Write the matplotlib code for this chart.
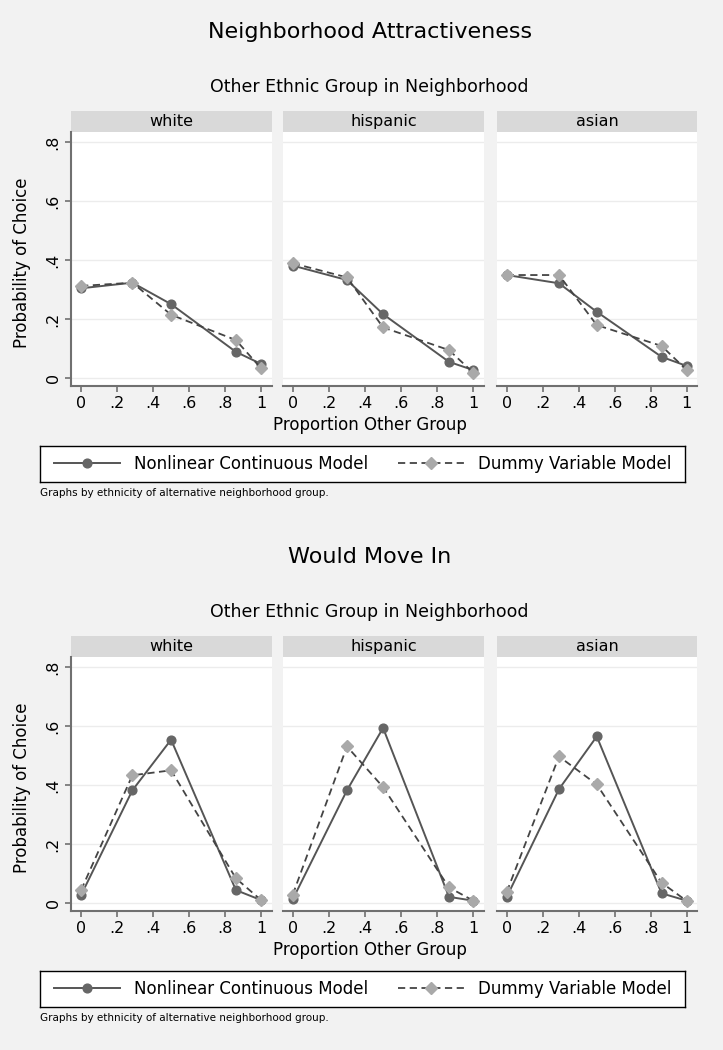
import matplotlib
matplotlib.use("Agg")
import matplotlib.pyplot as plt
from matplotlib.lines import Line2D

plt.rcParams["font.family"] = ["DejaVu Sans"]

groups = ["white", "hispanic", "asian"]
xtick_vals = [0, 0.2, 0.4, 0.6, 0.8, 1.0]
xtick_labels = ["0", ".2", ".4", ".6", ".8", "1"]
ytick_vals = [0, 0.2, 0.4, 0.6, 0.8]
ytick_labels = ["0", ".2", ".4", ".6", ".8"]

# proportion other group (category means) for each panel
x_white = [0, 0.285, 0.50, 0.86, 1.0]
x_hisp = [0, 0.30, 0.50, 0.865, 1.0]
x_asian = [0, 0.29, 0.50, 0.86, 1.0]

# Neighborhood attractiveness
attr_cont_white = [0.304, 0.323, 0.250, 0.088, 0.047]
attr_dummy_white = [0.312, 0.323, 0.214, 0.128, 0.032]
attr_cont_hisp = [0.381, 0.332, 0.216, 0.054, 0.026]
attr_dummy_hisp = [0.389, 0.341, 0.171, 0.094, 0.017]
attr_cont_asian = [0.349, 0.321, 0.224, 0.071, 0.040]
attr_dummy_asian = [0.349, 0.349, 0.179, 0.108, 0.026]

# Would move in
move_cont_white = [0.026, 0.382, 0.554, 0.043, 0.009]
move_dummy_white = [0.043, 0.433, 0.450, 0.083, 0.009]
move_cont_hisp = [0.012, 0.382, 0.594, 0.020, 0.007]
move_dummy_hisp = [0.028, 0.531, 0.393, 0.052, 0.007]
move_cont_asian = [0.020, 0.386, 0.565, 0.032, 0.007]
move_dummy_asian = [0.037, 0.497, 0.402, 0.068, 0.006]

W, H = 723, 1050
fig = plt.figure(figsize=(7.23, 10.5), dpi=100, facecolor="#f2f2f2")


def box(x0, y0, x1, y1):
    # pixel box -> figure fraction
    return [x0 / W, 1 - y1 / H, (x1 - x0) / W, (y1 - y0) / H]


panel_x = [(71, 271.7), (282.7, 484), (496.7, 697.4)]
cont_style = dict(color="#555555", lw=1.4, marker="o", ms=6.3, mfc="#666666", mec="#666666")
dummy_style = dict(color="#444444", lw=1.3, ls="--", dashes=(4, 2.5), marker="D", ms=6.3,
                   mfc="#a9a9a9", mec="#a9a9a9")


def draw_section(dy, title, xs, conts, dummies):
    fig.text(370 / W, 1 - (32 + dy) / H, title, ha="center", va="center", fontsize=16)
    fig.text(369 / W, 1 - (87 + dy) / H, "Other Ethnic Group in Neighborhood",
             ha="center", va="center", fontsize=12.5)

    for i in range(3):
        x0, x1 = panel_x[i]
        strip = fig.add_axes(box(x0, 111 + dy, x1, 131.7 + dy))
        strip.set_facecolor("#d9d9d9")
        strip.set_xticks([])
        strip.set_yticks([])
        for s in strip.spines.values():
            s.set_visible(False)
        strip.text(0.5, 0.5, groups[i], ha="center", va="center", fontsize=11.5,
                   transform=strip.transAxes)

        ax = fig.add_axes(box(x0, 131.7 + dy, x1, 385.7 + dy))
        ax.set_facecolor("white")
        ax.plot(xs[i], conts[i], zorder=3, **cont_style)
        ax.plot(xs[i], dummies[i], zorder=4, **dummy_style)
        ax.set_xlim(-0.056, 1.059)
        ax.set_ylim(-0.027, 0.836)
        ax.set_xticks(xtick_vals)
        ax.set_xticklabels(xtick_labels, fontsize=11.5)
        ax.set_yticks(ytick_vals)
        ax.set_yticklabels(ytick_labels, fontsize=11.5, rotation=90, va="center")
        ax.yaxis.grid(True, color="#ececec", lw=1)
        ax.set_axisbelow(True)
        ax.spines["top"].set_visible(False)
        ax.spines["right"].set_visible(False)
        ax.spines["bottom"].set_color("#707070")
        ax.spines["bottom"].set_linewidth(1.5)
        ax.spines["left"].set_color("#707070")
        ax.spines["left"].set_linewidth(1.5)
        ax.tick_params(colors="#707070", labelcolor="black", length=4, width=1.2)
        if i > 0:
            ax.spines["left"].set_visible(False)
            ax.tick_params(axis="y", left=False, labelleft=False)

    fig.text(22 / W, 1 - (263 + dy) / H, "Probability of Choice", rotation=90,
             ha="center", va="center", fontsize=12)
    fig.text(370 / W, 1 - (425 + dy) / H, "Proportion Other Group",
             ha="center", va="center", fontsize=12)

    # legend box
    lax = fig.add_axes(box(40, 446 + dy, 685, 482 + dy))
    lax.set_facecolor("white")
    lax.set_xticks([])
    lax.set_yticks([])
    for s in lax.spines.values():
        s.set_color("black")
        s.set_linewidth(1)
    handles = [Line2D([], [], **cont_style), Line2D([], [], **dummy_style)]
    lax.legend(handles, ["Nonlinear Continuous Model", "Dummy Variable Model"],
               loc="center", ncol=2, frameon=False, fontsize=12, handlelength=4,
               handletextpad=0.8, columnspacing=1.8)

    fig.text(40 / W, 1 - (493 + dy) / H,
             "Graphs by ethnicity of alternative neighborhood group.",
             ha="left", va="center", fontsize=7.5)


draw_section(0, "Neighborhood Attractiveness",
             [x_white, x_hisp, x_asian],
             [attr_cont_white, attr_cont_hisp, attr_cont_asian],
             [attr_dummy_white, attr_dummy_hisp, attr_dummy_asian])

draw_section(525, "Would Move In",
             [x_white, x_hisp, x_asian],
             [move_cont_white, move_cont_hisp, move_cont_asian],
             [move_dummy_white, move_dummy_hisp, move_dummy_asian])

fig.savefig("out.png", dpi=100, facecolor=fig.get_facecolor())
